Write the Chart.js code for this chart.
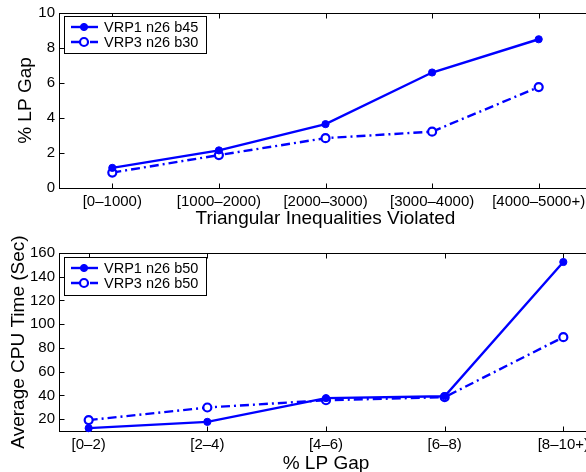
<!DOCTYPE html>
<html>
<head>
<meta charset="utf-8">
<script src="https://cdn.jsdelivr.net/npm/chart.js@4.4.1/dist/chart.umd.min.js"></script>
<style>
  html, body { margin: 0; padding: 0; background: #fff; overflow: hidden; }
  #wrap { position: relative; width: 586px; height: 472px; overflow: hidden; }
  canvas { position: absolute; left: 0; }
  #topChart { top: 0; }
  #bottomChart { top: 236px; }
</style>
</head>
<body>
<div id="wrap">
  <canvas id="topChart" width="620" height="236"></canvas>
  <canvas id="bottomChart" width="620" height="240"></canvas>
</div>
<script>
// top panel
const gapLabels = ['[0–1000)', '[1000–2000)', '[2000–3000)', '[3000–4000)', '[4000–5000+)'];
const gapVrp1 = [1.15, 2.15, 3.65, 6.6, 8.5];
const gapVrp3 = [0.88, 1.88, 2.85, 3.22, 5.77];
const gapYTicks = [0, 2, 4, 6, 8, 10];

// bottom panel
const cpuLabels = ['[0–2)', '[2–4)', '[4–6)', '[6–8)', '[8–10+)'];
const cpuVrp1 = [12.4, 17.7, 37.7, 39.3, 152.4];
const cpuVrp3 = [19.2, 29.8, 35.9, 38.5, 89.1];
const cpuYTicks = [20, 40, 60, 80, 100, 120, 140, 160];

const catPositions = [1, 2, 3, 4, 5];
const BLUE = '#0000ff';

Chart.defaults.font.family = "'Liberation Sans', Arial, sans-serif";
Chart.defaults.color = '#000';

// matlab style box with inward ticks + legend box in the upper left
const matlabBox = {
    id: 'matlabBox',
    beforeDatasetsDraw(chart) {
        const { ctx, chartArea: a, scales: { x, y } } = chart;
        const l = Math.round(a.left) + 0.5, r = Math.round(a.right) + 0.5;
        const t = Math.round(a.top) + 0.5, b = Math.round(a.bottom) + 0.5;
        ctx.save();
        ctx.strokeStyle = '#000';
        ctx.lineWidth = 1;
        ctx.strokeRect(l, t, r - l, b - t);
        ctx.beginPath();
        x.ticks.forEach(tk => {
            const px = Math.round(x.getPixelForValue(tk.value)) + 0.5;
            ctx.moveTo(px, b); ctx.lineTo(px, b - 5);
            ctx.moveTo(px, t); ctx.lineTo(px, t + 5);
        });
        y.ticks.forEach(tk => {
            const py = Math.round(y.getPixelForValue(tk.value)) + 0.5;
            ctx.moveTo(l, py); ctx.lineTo(l + 5, py);
            ctx.moveTo(r, py); ctx.lineTo(r - 5, py);
        });
        ctx.stroke();
        ctx.restore();
    },
    afterDatasetsDraw(chart, args, opts) {
        const { ctx } = chart;
        const bx = opts.x, by = opts.y, bw = opts.w, bh = opts.h;
        ctx.save();
        ctx.fillStyle = '#fff';
        ctx.fillRect(bx, by, bw, bh);
        ctx.strokeStyle = '#000';
        ctx.lineWidth = 1;
        ctx.strokeRect(bx + 0.5, by + 0.5, bw, bh);
        chart.data.datasets.forEach((ds, i) => {
            const ry = by + 11 + i * 15;
            ctx.strokeStyle = ds.borderColor;
            ctx.lineWidth = ds.borderWidth;
            ctx.setLineDash(ds.borderDash || []);
            ctx.beginPath();
            ctx.moveTo(bx + 7, ry);
            ctx.lineTo(bx + 34, ry);
            ctx.stroke();
            ctx.setLineDash([]);
            ctx.beginPath();
            ctx.arc(bx + 20, ry, ds.pointRadius, 0, Math.PI * 2);
            ctx.fillStyle = ds.pointBackgroundColor;
            ctx.fill();
            ctx.lineWidth = ds.pointBorderWidth;
            ctx.strokeStyle = ds.pointBorderColor;
            ctx.stroke();
            ctx.fillStyle = '#000';
            ctx.font = "14.5px 'Liberation Sans', Arial, sans-serif";
            ctx.textBaseline = 'middle';
            ctx.fillText(ds.label, bx + 40, ry + 1);
        });
        ctx.restore();
    }
};

function solidSet(label, values) {
    return {
        label: label,
        data: values.map((v, i) => ({ x: catPositions[i], y: v })),
        borderColor: BLUE,
        borderWidth: 2.4,
        pointRadius: 3.6,
        pointBackgroundColor: BLUE,
        pointBorderColor: BLUE,
        pointBorderWidth: 1,
        clip: false
    };
}

function dashDotSet(label, values) {
    return {
        label: label,
        data: values.map((v, i) => ({ x: catPositions[i], y: v })),
        borderColor: BLUE,
        borderWidth: 2.4,
        borderDash: [9, 4, 2, 4],
        pointRadius: 4,
        pointBackgroundColor: '#fff',
        pointBorderColor: BLUE,
        pointBorderWidth: 2.2,
        clip: false
    };
}

function makeChart(canvasId, cfg) {
    return new Chart(document.getElementById(canvasId), {
        type: 'line',
        data: { datasets: cfg.datasets },
        plugins: [matlabBox],
        options: {
            responsive: false,
            animation: false,
            layout: { padding: cfg.padding },
            plugins: {
                legend: { display: false },
                tooltip: { enabled: false },
                matlabBox: cfg.legendBox
            },
            scales: {
                x: {
                    type: 'linear',
                    min: cfg.xMin,
                    max: cfg.xMax,
                    afterBuildTicks: s => { s.ticks = catPositions.map(v => ({ value: v })); },
                    afterFit: s => { s.height = cfg.xHeight; },
                    grid: { display: false, drawTicks: false },
                    border: { display: false },
                    ticks: {
                        autoSkip: false,
                        maxRotation: 0,
                        padding: 5,
                        font: { size: 15 },
                        callback: (v, i) => cfg.labels[i]
                    },
                    title: {
                        display: true,
                        text: cfg.xTitle,
                        font: { size: 19 },
                        padding: { top: 0, bottom: cfg.xTitlePad }
                    }
                },
                y: {
                    min: cfg.yMin,
                    max: cfg.yMax,
                    afterBuildTicks: s => { s.ticks = cfg.yTicks.map(v => ({ value: v })); },
                    afterFit: s => { s.width = 59; },
                    grid: { display: false, drawTicks: false },
                    border: { display: false },
                    ticks: { padding: 4, font: { size: 15 } },
                    title: {
                        display: true,
                        text: cfg.yTitle,
                        font: { size: 19 },
                        padding: { top: cfg.yTitlePad, bottom: 0 }
                    }
                }
            }
        }
    });
}

makeChart('topChart', {
    datasets: [solidSet('VRP1 n26 b45', gapVrp1), dashDotSet('VRP3 n26 b30', gapVrp3)],
    labels: gapLabels,
    yTicks: gapYTicks,
    xMin: 0.5, xMax: 5.5, yMin: 0, yMax: 10,
    padding: { top: 10, left: 0, right: 28, bottom: 0 },
    xHeight: 48, xTitlePad: 6, yTitlePad: 14,
    xTitle: 'Triangular Inequalities Violated',
    yTitle: '% LP Gap',
    legendBox: { x: 64, y: 16, w: 142, h: 37 }
});

makeChart('bottomChart', {
    datasets: [solidSet('VRP1 n26 b50', cpuVrp1), dashDotSet('VRP3 n26 b50', cpuVrp3)],
    labels: cpuLabels,
    yTicks: cpuYTicks,
    xMin: 0.75, xMax: 5.25, yMin: 10, yMax: 160,
    padding: { top: 17, left: 0, right: 27, bottom: 0 },
    xHeight: 45, xTitlePad: 1, yTitlePad: 7,
    xTitle: '% LP Gap',
    yTitle: 'Average CPU Time (Sec)',
    legendBox: { x: 64, y: 21, w: 142, h: 38 }
});
</script>
</body>
</html>
